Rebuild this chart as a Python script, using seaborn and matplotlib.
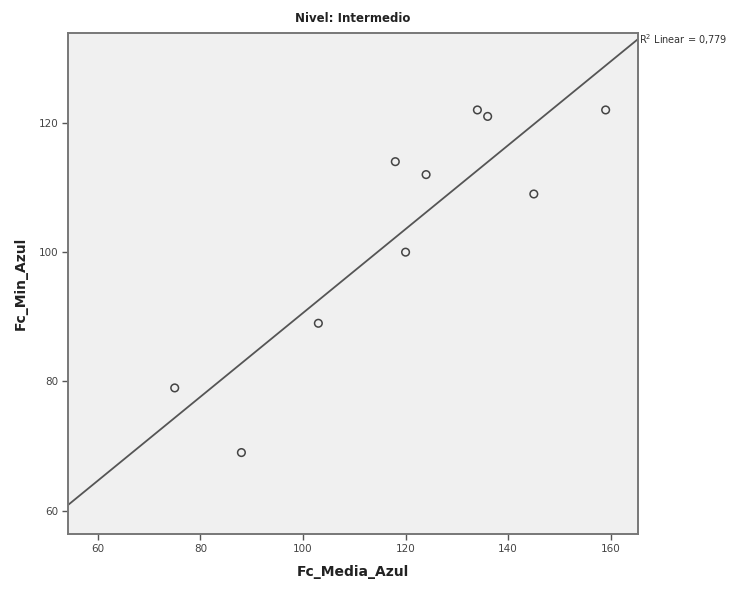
import matplotlib
matplotlib.use("Agg")
import matplotlib.pyplot as plt
import seaborn as sns
import numpy as np
import pandas as pd

fc_media_azul = [75, 88, 103, 118, 120, 124, 134, 136, 145, 159]
fc_min_azul = [79, 69, 89, 114, 100, 112, 122, 121, 109, 122]
x_ticks = [60, 80, 100, 120, 140, 160]
y_ticks = [60, 80, 100, 120]
title = "Nivel: Intermedio"
r2_label = "R$^2$ Linear = 0,779"

df = pd.DataFrame({"Fc_Media_Azul": fc_media_azul, "Fc_Min_Azul": fc_min_azul})

sns.set_style("white")
plt.rcParams["font.family"] = ["DejaVu Sans"]

fig = plt.figure(figsize=(7.36, 5.96), dpi=100)
ax = fig.add_axes([0.0924, 0.104, 0.7744, 0.8406])
ax.set_facecolor("#f0f0f0")
ax.set_xlim(54.2, 165.3)
ax.set_ylim(56.4, 133.9)

sns.regplot(data=df, x="Fc_Media_Azul", y="Fc_Min_Azul", ax=ax, scatter=False,
            ci=None, truncate=False, line_kws=dict(color="#555555", lw=1.3))
sns.scatterplot(data=df, x="Fc_Media_Azul", y="Fc_Min_Azul", ax=ax,
                marker="o", s=30, facecolors="none", edgecolor="#444444",
                linewidth=1.1, zorder=3)

ax.set_xlim(54.2, 165.3)
ax.set_ylim(56.4, 133.9)
ax.set_xticks(x_ticks)
ax.set_yticks(y_ticks)
ax.tick_params(axis="both", direction="out", length=4, width=1, color="#555555",
               labelsize=7.5, labelcolor="#444444", bottom=True, left=True, pad=3)
for s in ax.spines.values():
    s.set_color("#777777")
    s.set_linewidth(1.4)

ax.set_xlabel("Fc_Media_Azul", fontsize=10, fontweight="bold", color="#222222", labelpad=8)
ax.set_ylabel("Fc_Min_Azul", fontsize=10, fontweight="bold", color="#222222", labelpad=8)
ax.set_title(title, fontsize=8.5, fontweight="bold", color="#222222", pad=8)

ax.text(1.002, 0.986, r2_label, transform=ax.transAxes, fontsize=7,
        color="#333333", ha="left", va="center", clip_on=False)

fig.savefig("out.png", dpi=100)
